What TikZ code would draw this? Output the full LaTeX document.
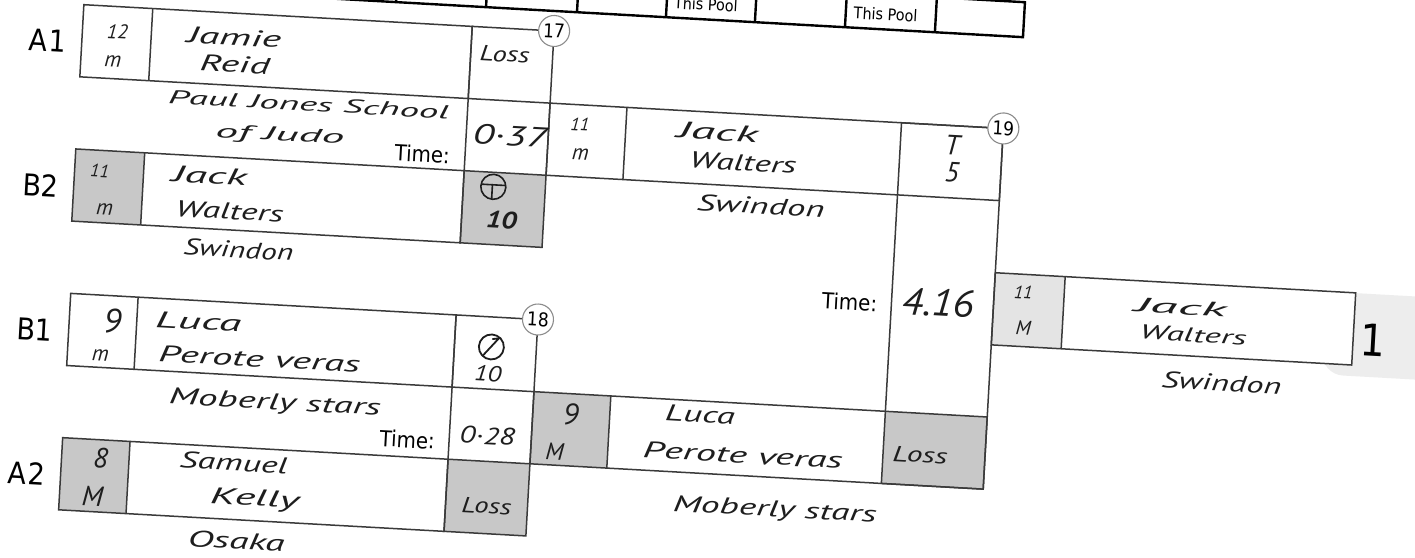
\documentclass[tikz,border=0pt]{standalone}
\usepackage{fontspec}
\usepackage{graphicx}
\newfontfamily\printfont{DejaVu Sans}[FakeStretch=0.9]
\newfontfamily\handfont{PT Sans}
\newcommand\hw[2]{\resizebox{#1pt}{\height}{#2}}
\definecolor{linecol}{HTML}{3A3A3A}
\definecolor{shadecol}{HTML}{C8C8C8}
\definecolor{lightshade}{HTML}{E4E4E4}
\definecolor{blobcol}{HTML}{EDEDED}
\definecolor{inkcol}{HTML}{1E1E1E}
\definecolor{circcol}{HTML}{8C8C8C}
\tikzset{
  box/.style={draw=linecol, line width=1.5pt},
  tablebox/.style={draw=black, line width=2.4pt},
  lbl/.style={font=\printfont\fontsize{30}{30}\selectfont, anchor=east, inner sep=0pt},
  tm/.style={font=\printfont\fontsize{22}{22}\selectfont, anchor=east, inner sep=0pt},
  pool/.style={font=\printfont\fontsize{16}{16}\selectfont, anchor=west, inner sep=0pt},
  num/.style={circle, draw=circcol, fill=white, line width=1.1pt, minimum size=31pt, inner sep=0pt, font=\printfont\fontsize{19}{19}\selectfont},
  hand/.style={font=\handfont\itshape\fontsize{#1}{#1}\selectfont, text=inkcol, inner sep=0pt},
  hand/.default=23,
  ink/.style={draw=inkcol, line width=1.8pt, line cap=round}
}
\begin{document}
\begin{tikzpicture}[x=1pt,y=-1pt]
\fill[white] (0,0) rectangle (1415,557);
\useasboundingbox (0,0) rectangle (1415,557);
\begin{scope}
\clip (0,0) rectangle (1415,557);
\begin{scope}[rotate=-3.2, transform shape]
% ---------- top table (mostly cut off)
\draw[tablebox] (200,-55) -- (1023.5,-55) -- (1023.5,-20) -- (200,-20);
\foreach \vx in {306,395.6,485.7,576.8,665.9,755,845.2,935.3}
  \draw[tablebox] (\vx,-55) -- (\vx,-20);
\node[pool] (pool1) at (673,-35) {This Pool};
\node[pool] (pool2) at (853,-35) {This Pool};

% ---------- shaded cells
\fill[blobcol, rounded corners=22pt] (1340,217) rectangle (1470,300);
\fill[white] (1079,216.75) rectangle (1370,289);
\fill[shadecol] (84,144.5) rectangle (153,216.75);
\fill[shadecol] (473,144.5) rectangle (555,216.75);
\fill[shadecol] (87,433.5) rectangle (154.5,505.75);
\fill[shadecol] (473,433.5) rectangle (555,505.75);
\fill[shadecol] (555,361.25) rectangle (632,433.5);
\fill[shadecol] (907,361.25) rectangle (1009,433.5);
\fill[lightshade] (1009,216.75) rectangle (1079,289);

% ---------- match 17
\draw[box] (84,0) rectangle (473,72.25);
\draw[box] (153,0) -- (153,72.25);
\draw[box] (84,144.5) rectangle (473,216.75);
\draw[box] (153,144.5) -- (153,216.75);
\draw[box] (473,0) rectangle (555,216.75);
\draw[box] (473,72.25) -- (555,72.25);
\draw[box] (473,144.5) -- (555,144.5);
% ---------- match 18
\draw[box] (87,289) rectangle (473,361.25);
\draw[box] (154.5,289) -- (154.5,361.25);
\draw[box] (87,433.5) rectangle (473,505.75);
\draw[box] (154.5,433.5) -- (154.5,505.75);
\draw[box] (473,289) rectangle (555,505.75);
\draw[box] (473,361.25) -- (555,361.25);
\draw[box] (473,433.5) -- (555,433.5);
% ---------- match 19
\draw[box] (555,72.25) rectangle (1009,144.5);
\draw[box] (632,72.25) -- (632,144.5);
\draw[box] (555,361.25) rectangle (1009,433.5);
\draw[box] (632,361.25) -- (632,433.5);
\draw[box] (907,72.25) rectangle (1009,433.5);
% ---------- final
\draw[box] (1009,216.75) rectangle (1370,289);
\draw[box] (1079,216.75) -- (1079,289);

% ---------- match numbers
\node[num] (m17) at (555,0) {17};
\node[num] (m18) at (555,289) {18};
\node[num] (m19) at (1009,72.25) {19};

% ---------- pool labels
\node[lbl] (la1) at (69,38) {A\kern2pt1};
\node[lbl] (lb2) at (69,183) {B2};
\node[lbl] (lb1) at (71,327) {B1};
\node[lbl] (la2) at (72,471) {A\kern2pt2};

% ---------- printed "Time:"
\node[tm] (t17) at (458,130) {Time:};
\node[tm] (t18) at (459,416) {Time:};
\node[tm] (t19) at (893,254) {Time:};

% ---------- A1
\node[hand=20] (a1age) at (119,25) {12};
\node[hand=22] (a1sex) at (116,55) {m};
\node[hand] (a1n1) at (236,24) {\hw{94}{Jamie}};
\node[hand] (a1n2) at (238,51) {\hw{70}{Reid}};
\node[hand=19] (a1c1) at (314,87) {\hw{281}{Paul Jones School}};
\node[hand=19] (a1c2) at (287,120) {\hw{129}{of Judo}};
\node[hand=22] (a1res) at (507,26) {\hw{50}{Loss}};
\node[hand=28] (time17) at (517,107) {\hw{74}{0·37}};
% ---------- B2
\node[hand=18] (b2age) at (109,165) {11};
\node[hand=22] (b2sex) at (116,203) {m};
\node[hand] (b2n1) at (219,164) {\hw{75}{Jack}};
\node[hand] (b2n2) at (241,198) {\hw{108}{Walters}};
\node[hand] (b2c) at (252,236) {\hw{110}{Swindon}};
\draw[ink, line width=1.6pt] (503,159) circle (12.5);
\draw[ink, line width=1.6pt] (491,157) -- (515,157);
\draw[ink, line width=1.6pt] (502,157) -- (502,171);
\node[font=\handfont\bfseries\itshape\fontsize{24}{24}\selectfont, text=inkcol, inner sep=0pt] (b2res) at (513,192) {\hw{31}{10}};
% ---------- winner 17
\node[hand=18] (w17age) at (586,92) {11};
\node[hand=22] (w17sex) at (588,122) {m};
\node[hand] (w17n1) at (724,92) {\hw{81}{Jack}};
\node[hand] (w17n2) at (751,121) {\hw{107}{Walters}};
\node[hand] (w17c) at (771,163) {\hw{128}{Swindon}};
\node[hand=28] (w17r1) at (959,92) {T};
\node[hand=28] (w17r2) at (960,119) {5};
\node[hand=38] (time19) at (954,250) {\hw{72}{4.16}};
% ---------- final
\node[hand=18] (fage) at (1038,235) {11};
\node[hand=20] (fsex) at (1040,270) {M};
\node[hand=20] (fn1) at (1196,241) {\hw{92}{Jack}};
\node[hand=20] (fn2) at (1210,268) {\hw{107}{Walters}};
\node[hand] (fc) at (1241,314) {\hw{120}{Swindon}};
\node[font=\printfont\fontsize{44}{44}\selectfont, inner sep=0pt] (place) at (1390,263) {1};
% ---------- B1
\node[hand=34] (b1age) at (130,314) {9};
\node[hand=22] (b1sex) at (120,349) {m};
\node[hand] (b1n1) at (216,310) {\hw{86}{Luca}};
\node[hand] (b1n2) at (279,344) {\hw{202}{Perote veras}};
\node[hand] (b1c) at (297,388) {\hw{212}{Moberly stars}};
\draw[ink] (510,319) circle (12.5);
\draw[ink] (502,328) -- (517,310) -- (511,311);
\node[hand=22] (b1res) at (508,346) {\hw{27}{10}};
\node[hand=24] (time18) at (511,408) {\hw{55}{0·28}};
% ---------- A2
\node[hand=28] (a2age) at (126,452) {8};
\node[hand=28] (a2sex) at (120,490) {M};
\node[hand] (a2n1) at (259,449) {\hw{108}{Samuel}};
\node[hand] (a2n2) at (282,485) {\hw{89}{Kelly}};
\node[hand] (a2c) at (266,527) {\hw{97}{Osaka}};
\node[hand=22] (a2res) at (514,478) {\hw{50}{Loss}};
% ---------- winner 18
\node[hand=30] (w18age) at (593,382) {9};
\node[hand=24] (w18sex) at (579,420) {M};
\node[hand] (w18n1) at (722,375) {\hw{70}{Luca}};
\node[hand] (w18n2) at (767,413) {\hw{200}{Perote veras}};
\node[hand=22] (w18res) at (944,403) {\hw{55}{Loss}};
\node[hand] (w18c) at (802,467) {\hw{204}{Moberly stars}};
\end{scope}
\end{scope}
\end{tikzpicture}
\end{document}
